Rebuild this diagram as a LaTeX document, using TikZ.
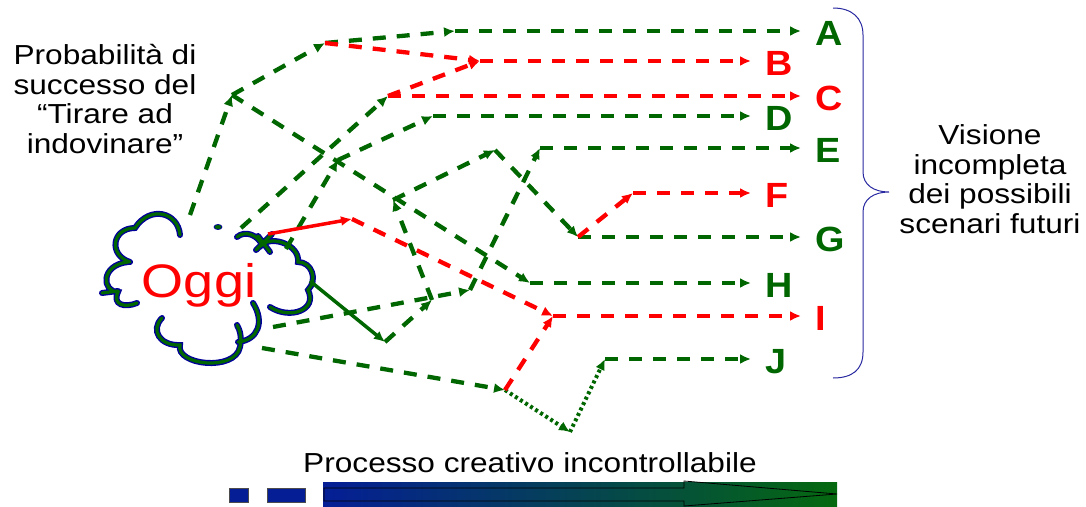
\documentclass[tikz,border=0pt]{standalone}
\usepackage{fontspec}
\setmainfont{Liberation Sans}
\newfontfamily\txtfont[FakeStretch=1.15]{Liberation Sans}
\newfontfamily\letfont[FakeStretch=1.08]{Liberation Sans Bold}
\usetikzlibrary{arrows.meta}
\definecolor{dg}{RGB}{0,102,0}
\definecolor{rd}{RGB}{255,0,0}
\definecolor{cb}{RGB}{0,0,153}
\definecolor{brc}{RGB}{40,40,160}
\definecolor{barb}{RGB}{5,30,150}
\definecolor{barg}{RGB}{5,105,15}
\begin{document}
\begin{tikzpicture}[x=1pt,y=-1pt,
 gd/.style={line width=4.3pt,draw=dg,dash pattern=on 13pt off 11pt},
 rdd/.style={line width=4.3pt,draw=rd,dash pattern=on 13pt off 11pt},
 gdot/.style={line width=4pt,draw=dg,dash pattern=on 3pt off 3pt},
 tip/.style={-{Latex[length=11pt,width=10pt]}},
 lett/.style={font=\letfont\fontsize{35}{36}\selectfont, inner xsep=14pt, inner ysep=0pt, anchor=west, text height=29.5pt, text depth=0pt},
 lbl/.style={font=\txtfont\fontsize{27.5}{29.5}\selectfont, align=center, inner sep=0pt},
 cloudb/.style={draw=cb,line width=6pt,line cap=round},
 cloudg/.style={draw=dg,line width=3.2pt,line cap=round}
]
\useasboundingbox (0,0) rectangle (1086,506);

% ---- cloud ----
\def\cloudpth{
 (180,235) .. controls (178,212) and (150,205) .. (135,228)
 .. controls (112,228) and (108,255) .. (130,262)
 (128,262) .. controls (100,265) and (102,292) .. (118,292)
 .. controls (112,305) and (125,308) .. (137,303)
 (102,293) -- (118,291)
 (162,318) .. controls (150,330) and (160,346) .. (180,345)
 .. controls (175,365) and (235,372) .. (240,347)
 .. controls (242,338) and (240,330) .. (237,325)
 (238,342) .. controls (258,340) and (265,322) .. (253,303)
 (270,307) .. controls (290,320) and (318,310) .. (308,290)
 .. controls (318,280) and (312,262) .. (298,262)
 .. controls (300,245) and (272,235) .. (262,245)
 .. controls (258,235) and (245,230) .. (237,237)
 (258,236) -- (270,252) (256,250) -- (272,234)
}
\draw[cloudb] \cloudpth;
\draw[cloudg] \cloudpth;
\filldraw[fill=dg,draw=cb,line width=0.8pt] (218,227) ellipse (4 and 2.5);

\node[font=\txtfont\fontsize{47}{48}\selectfont, text=rd, anchor=base, inner sep=0pt] (oggi) at (199,297) {Oggi};

% ---- junctions ----
\coordinate (c1) at (190,215);
\coordinate (c2) at (241,228);
\coordinate (c3) at (286,249);
\coordinate (c4) at (268,234);
\coordinate (c5) at (310,281);
\coordinate (c6) at (273,327);
\coordinate (c7) at (262,348);
\coordinate (j1) at (232,95);
\coordinate (j2) at (325,43);
\coordinate (j3) at (455,31);
\coordinate (jB) at (480,61);
\coordinate (jC) at (388,96);
\coordinate (j6) at (338,160);
\coordinate (jD) at (433,116);
\coordinate (jH) at (530,283);
\coordinate (j8) at (352,219);
\coordinate (jI) at (553,316);
\coordinate (j10) at (385,342);
\coordinate (j11) at (432,300);
\coordinate (j12) at (470,290);
\coordinate (jE) at (540,148);
\coordinate (j14) at (393,200);
\coordinate (j15) at (495,150);
\coordinate (jG) at (578,237);
\coordinate (jF) at (633,193);
\coordinate (j19) at (505,390);
\coordinate (j20) at (570,432);
\coordinate (jJ) at (605,359);

% ---- letters ----
\node[lett,text=dg] (A) at (801,31) {A};
\node[lett,text=rd] (B) at (751,61) {B};
\node[lett,text=rd] (C) at (801,96) {C};
\node[lett,text=dg] (D) at (751,116) {D};
\node[lett,text=dg] (E) at (801,148) {E};
\node[lett,text=rd] (F) at (751,193) {F};
\node[lett,text=dg] (G) at (801,237) {G};
\node[lett,text=dg] (H) at (751,283) {H};
\node[lett,text=rd] (I) at (801,316) {I};
\node[lett,text=dg] (J) at (751,359) {J};

% ---- connectors ----
\draw[gd,tip] (c1) -- (j1);
\draw[gd,tip] (j1) -- (j2);
\draw[gd,tip] (j2) -- (j3);
\draw[gd,tip] (j3) -- (A);
\draw[rdd,tip] (j2) -- (jB);
\draw[rdd,tip] (jB) -- (B);
\draw[gd,tip] (c2) -- (jC);
\draw[rdd,tip] (jC) -- (jB);
\draw[rdd,tip] (jC) -- (C);
\draw[gd,tip] (c3) -- (j6);
\draw[gd,tip] (j6) -- (jD);
\draw[gd,tip] (jD) -- (D);
\draw[gd,tip] (j1) -- (jH);
\draw[gd,tip] (jH) -- (H);
\draw[draw=rd,line width=3.5pt,tip] (c4) -- (j8);
\draw[rdd,tip] (j8) -- (jI);
\draw[rdd,tip] (jI) -- (I);
\draw[draw=dg,line width=3.5pt,tip] (c5) -- (j10);
\draw[gd,tip] (j10) -- (j11);
\draw[gd,tip] (c6) -- (j12);
\draw[gd,tip] (j11) -- (j14);
\draw[gd,tip] (j12) -- (jE);
\draw[gd,tip] (jE) -- (E);
\draw[gd,tip] (j14) -- (j15);
\draw[gd,tip] (j15) -- (jG);
\draw[gd,tip] (jG) -- (G);
\draw[rdd,tip] (jG) -- (jF);
\draw[rdd,tip] (jF) -- (F);
\draw[gd,tip] (c7) -- (j19);
\draw[gdot,tip] (j19) -- (j20);
\draw[gdot,tip] (j20) -- (jJ);
\draw[gd,tip] (jJ) -- (J);
\draw[rdd,tip] (j19) -- (jI);

% ---- brace ----
\draw[brc,line width=1pt] (833,8) .. controls (852,8) and (863,18) .. (863,35) -- (863,172)
  .. controls (863,185) and (874,192) .. (889,192)
  .. controls (874,192) and (863,199) .. (863,212) -- (863,352)
  .. controls (863,370) and (852,378) .. (833,378);

% ---- texts ----
\node[lbl] (prob) at (105,99) {Probabilità di\\successo del\\“Tirare ad\\indovinare”};
\node[lbl] (vis) at (990,179) {Visione\\incompleta\\dei possibili\\scenari futuri};
\node[font=\txtfont\fontsize{27.5}{30}\selectfont, anchor=base, inner sep=0pt] (proc) at (530,472) {Processo creativo incontrollabile};

% ---- bottom bar ----
\draw[black!70,fill=barb,line width=0.8pt] (229,488) rectangle (248,502);
\draw[black!70,fill=barb,line width=0.8pt] (267,488) rectangle (305,502);
\shade[left color=barb,right color=barg] (323,482) rectangle (837,506);
\draw[black,line width=0.8pt] (324,488) -- (684,488) -- (684,481) -- (837,494) -- (684,506) -- (684,501) -- (324,501) -- cycle;
\end{tikzpicture}
\end{document}
